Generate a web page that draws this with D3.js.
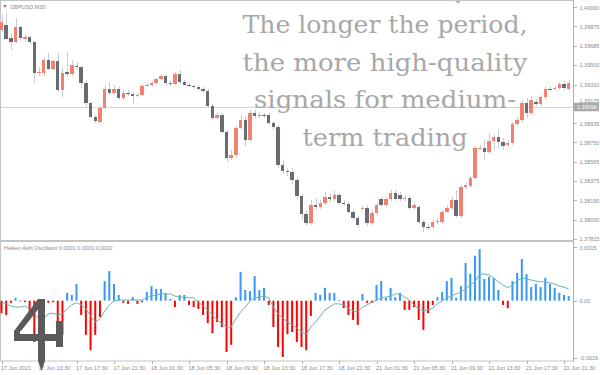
<!DOCTYPE html>
<html>
<head>
<meta charset="utf-8">
<script src="https://cdn.jsdelivr.net/npm/d3@7"></script>
<style>
  html, body { margin: 0; padding: 0; background: #fff; }
  svg { display: block; }
  .axis text { font-family: "Liberation Sans", Arial, sans-serif; font-size: 5.5px; fill: #8a8a8a; }
  .axis line, .axis path { stroke: #b0b0b0; shape-rendering: crispEdges; }
  .label { font-family: "Liberation Sans", Arial, sans-serif; font-size: 5.5px; fill: #8a8a8a; }
</style>
</head>
<body>
<div id="chart"></div>
<script>
// GBPUSD M30, 17 Jun 09:30 .. 21 Jun 22:00
const opens = [
  1.39840, 1.39889, 1.39763, 1.39724, 1.39869, 1.39753, 1.39772, 1.39724, 1.39424, 1.39424,
  1.39550, 1.39462, 1.39540, 1.39259, 1.39433, 1.39414, 1.39491, 1.39482, 1.39327, 1.39133,
  1.38997, 1.38949, 1.39084, 1.39269, 1.39230, 1.39269, 1.39181, 1.39230, 1.39220, 1.39201,
  1.39210, 1.39298, 1.39307, 1.39327, 1.39366, 1.39395, 1.39327, 1.39317, 1.39414, 1.39336,
  1.39307, 1.39298, 1.39288, 1.39269, 1.39249, 1.39104, 1.38988, 1.39017, 1.38852, 1.38600,
  1.38629, 1.38891, 1.38968, 1.38774, 1.39036, 1.39007, 1.39017, 1.39012, 1.38939, 1.38900,
  1.38532, 1.38474, 1.38464, 1.38387, 1.38232, 1.38057, 1.37970, 1.38145, 1.38125, 1.38164,
  1.38222, 1.38203, 1.38242, 1.38164, 1.38154, 1.38077, 1.38019, 1.38111, 1.38116, 1.37970,
  1.38067, 1.38203, 1.38145, 1.38203, 1.38261, 1.38242, 1.38203, 1.38212, 1.38116, 1.38125,
  1.37980, 1.37931, 1.37931, 1.37980, 1.37980, 1.38077, 1.38116, 1.38193, 1.38038, 1.38319,
  1.38329, 1.38406, 1.38687, 1.38697, 1.38658, 1.38765, 1.38804, 1.38755, 1.38726, 1.38745,
  1.38929, 1.38968, 1.39133, 1.39036, 1.39143, 1.39123, 1.39191, 1.39272, 1.39272, 1.39278,
  1.39317, 1.39269
];
const highs = [
  1.39995, 1.40005, 1.39811, 1.39957, 1.39879, 1.39792, 1.39782, 1.39734, 1.39482, 1.39569,
  1.39617, 1.39550, 1.39617, 1.39482, 1.39627, 1.39550, 1.39530, 1.39491, 1.39356, 1.39143,
  1.39017, 1.39104, 1.39307, 1.39336, 1.39307, 1.39288, 1.39259, 1.39259, 1.39240, 1.39230,
  1.39317, 1.39327, 1.39346, 1.39375, 1.39414, 1.39404, 1.39346, 1.39433, 1.39453, 1.39356,
  1.39327, 1.39317, 1.39307, 1.39288, 1.39269, 1.39123, 1.39046, 1.39036, 1.38871, 1.38678,
  1.38910, 1.39017, 1.39007, 1.39065, 1.39065, 1.39046, 1.39036, 1.39036, 1.38959, 1.38920,
  1.38581, 1.38503, 1.38503, 1.38406, 1.38251, 1.38096, 1.38193, 1.38212, 1.38193, 1.38271,
  1.38261, 1.38290, 1.38261, 1.38193, 1.38174, 1.38096, 1.38038, 1.38145, 1.38145, 1.38096,
  1.38164, 1.38222, 1.38222, 1.38290, 1.38290, 1.38271, 1.38242, 1.38232, 1.38174, 1.38145,
  1.37999, 1.37960, 1.37999, 1.38019, 1.38096, 1.38145, 1.38222, 1.38290, 1.38338, 1.38358,
  1.38426, 1.38716, 1.38726, 1.38774, 1.38842, 1.38823, 1.38871, 1.38794, 1.38774, 1.38949,
  1.38997, 1.39162, 1.39181, 1.39201, 1.39172, 1.39210, 1.39288, 1.39298, 1.39298, 1.39336,
  1.39346, 1.39356
];
const lows = [
  1.39821, 1.39743, 1.39646, 1.39714, 1.39743, 1.39734, 1.39705, 1.39327, 1.39395, 1.39395,
  1.39453, 1.39453, 1.39240, 1.39191, 1.39395, 1.39395, 1.39453, 1.39278, 1.39094, 1.38988,
  1.38939, 1.38939, 1.39075, 1.39210, 1.39210, 1.39162, 1.39162, 1.39201, 1.39123, 1.39191,
  1.39201, 1.39288, 1.39298, 1.39307, 1.39356, 1.39298, 1.39298, 1.39307, 1.39317, 1.39298,
  1.39288, 1.39269, 1.39249, 1.39230, 1.39084, 1.38968, 1.38978, 1.38833, 1.38561, 1.38581,
  1.38600, 1.38871, 1.38716, 1.38755, 1.38988, 1.38988, 1.38988, 1.38920, 1.38871, 1.38503,
  1.38445, 1.38426, 1.38348, 1.38193, 1.38000, 1.37941, 1.37951, 1.38096, 1.38106, 1.38145,
  1.38174, 1.38183, 1.38145, 1.38135, 1.38057, 1.37990, 1.37922, 1.38096, 1.37941, 1.37951,
  1.38048, 1.38125, 1.38125, 1.38183, 1.38183, 1.38183, 1.38183, 1.38096, 1.38096, 1.37960,
  1.37883, 1.37902, 1.37912, 1.37960, 1.37960, 1.38067, 1.38096, 1.38019, 1.38019, 1.38300,
  1.38309, 1.38387, 1.38678, 1.38581, 1.38639, 1.38678, 1.38697, 1.38678, 1.38707, 1.38726,
  1.38910, 1.38949, 1.38988, 1.39017, 1.39104, 1.39104, 1.39172, 1.39249, 1.39259, 1.39259,
  1.39259, 1.39259
];
const closes = [
  1.39918, 1.39753, 1.39724, 1.39869, 1.39763, 1.39772, 1.39724, 1.39424, 1.39433, 1.39550,
  1.39462, 1.39540, 1.39259, 1.39424, 1.39414, 1.39501, 1.39482, 1.39327, 1.39133, 1.38997,
  1.38958, 1.39084, 1.39269, 1.39230, 1.39269, 1.39181, 1.39230, 1.39220, 1.39201, 1.39210,
  1.39298, 1.39307, 1.39327, 1.39366, 1.39395, 1.39327, 1.39317, 1.39414, 1.39336, 1.39307,
  1.39298, 1.39288, 1.39269, 1.39249, 1.39104, 1.38988, 1.39017, 1.38852, 1.38600, 1.38629,
  1.38891, 1.38968, 1.38774, 1.39036, 1.39007, 1.39017, 1.39012, 1.38939, 1.38900, 1.38532,
  1.38474, 1.38464, 1.38387, 1.38232, 1.38057, 1.37970, 1.38145, 1.38125, 1.38164, 1.38222,
  1.38203, 1.38242, 1.38164, 1.38154, 1.38077, 1.38019, 1.37951, 1.38116, 1.37970, 1.38067,
  1.38145, 1.38145, 1.38203, 1.38261, 1.38203, 1.38203, 1.38212, 1.38116, 1.38145, 1.37980,
  1.37931, 1.37927, 1.37980, 1.37990, 1.38077, 1.38116, 1.38193, 1.38038, 1.38319, 1.38338,
  1.38406, 1.38697, 1.38697, 1.38658, 1.38765, 1.38804, 1.38755, 1.38716, 1.38745, 1.38929,
  1.38968, 1.39133, 1.39036, 1.39162, 1.39123, 1.39191, 1.39269, 1.39269, 1.39278, 1.39317,
  1.39278, 1.39327
];

// Heiken Ashi Oscillator, in points (0.00001)
const oscHist = [
  -35, -40, -6, 8, -2, -4, -32, -116, -124, -88,
  -6, -4, -74, -96, 22, 16, 47, -40, -96, -139,
  -96, -46, 55, 83, 47, 16, -6, -9, 10, -9,
  -4, 24, 41, 33, 33, 22, 5, -18, 16, 16,
  -12, -18, -23, -40, -63, -91, -60, -74, -144, -124,
  10, 81, 30, 27, 69, 30, 36, -12, -74, -130,
  -158, -94, -88, -116, -130, -139, -43, 22, 16, 36,
  22, 22, 2, -21, -40, -54, -68, 19, -6, -6,
  44, 55, 8, 36, 10, 22, -26, -26, -18, -54,
  -82, -35, -12, 10, 24, 55, 64, 8, 41, 106,
  75, 126, 145, 61, 67, 64, 30, -12, -21, 55,
  78, 117, 75, 38, 47, 38, 64, 47, 36, 22,
  16, 13
];
const oscSignal = [
  -4, -9, -15, -18, -18, -15, -23, -35, -51, -49,
  -37, -35, -40, -37, -23, -12, -6, -12, -23, -43,
  -60, -51, -29, -12, -1, 2, 2, 2, 2, 2,
  2, 8, 13, 16, 19, 19, 19, 13, 10, 10,
  8, 8, -4, -15, -26, -40, -54, -65, -74, -74,
  -51, -32, -18, -1, 8, 10, 13, 8, -18, -37,
  -49, -60, -68, -77, -88, -94, -74, -60, -43, -26,
  -18, -9, -9, -12, -21, -29, -32, -18, -12, -4,
  2, 8, 10, 13, 19, 19, 10, 2, -12, -23,
  -29, -26, -21, -9, -1, 8, 13, 19, 24, 33,
  44, 53, 75, 75, 72, 64, 53, 44, 36, 44,
  55, 64, 61, 58, 55, 53, 53, 50, 47, 41,
  38, 33
];

const priceTicks = [1.40060, 1.39875, 1.39685, 1.39500, 1.39310, 1.39125, 1.38935,
  1.38750, 1.38565, 1.38375, 1.38190, 1.38000, 1.37815];
const oscTicks = [150, 0, -160];
const oscTickLabels = ['0.0015', '0.00', '-0.0016'];
const timeTicks = [0, 8, 16, 24, 32, 40, 48, 56, 64, 72, 80, 88, 96, 104, 112, 120];
const timeLabels = ['17 Jun 2021', '17 Jun 13:30', '17 Jun 17:30', '17 Jun 21:30',
  '18 Jun 01:30', '18 Jun 05:30', '18 Jun 09:30', '18 Jun 13:30', '18 Jun 17:30',
  '18 Jun 21:30', '21 Jun 01:30', '21 Jun 05:30', '21 Jun 09:30', '21 Jun 13:30',
  '21 Jun 17:30', '21 Jun 21:30'];
const bidPrice = 1.39096;
const captionLines = ['The longer the period,', 'the more high-quality', 'signals for medium-', 'term trading'];

const width = 600;
const height = 375;
const plotRight = 573;
const mainTop = 1, mainBottom = 240;
const subTop = 242, subBottom = 361;

const svg = d3.select('#chart')
  .append('svg')
  .attr('width', width)
  .attr('height', height);

svg.append('rect').attr('width', width).attr('height', height).attr('fill', '#fff');

const x = d3.scaleLinear().domain([0, closes.length - 1]).range([1.5, 568.7]);
const y = d3.scaleLinear().domain([1.37805, 1.40111]).range([mainBottom, mainTop + 1]);
const yOsc = d3.scaleLinear().domain([-169.4, 162]).range([subBottom, subTop + 1]);

// window frames
svg.append('rect')
  .attr('x', 0.5).attr('y', 0.5)
  .attr('width', plotRight).attr('height', mainBottom)
  .attr('fill', 'none').attr('stroke', '#c4c4c4');
svg.append('rect')
  .attr('x', 0.5).attr('y', subTop - 0.5)
  .attr('width', plotRight).attr('height', subBottom - subTop + 0.5)
  .attr('fill', 'none').attr('stroke', '#c4c4c4');

// bid line
svg.append('line')
  .attr('x1', 1).attr('x2', plotRight)
  .attr('y1', Math.round(y(bidPrice)) + 0.5).attr('y2', Math.round(y(bidPrice)) + 0.5)
  .attr('stroke', '#d6d6d6')
  .attr('shape-rendering', 'crispEdges');

// candles
const bodyW = 3.4;
const idx = d3.range(closes.length);
const candles = svg.append('g').attr('shape-rendering', 'crispEdges');

candles.selectAll('.wick')
  .data(idx)
  .enter()
  .append('line')
  .attr('x1', (i) => Math.round(x(i)) + 0.5)
  .attr('x2', (i) => Math.round(x(i)) + 0.5)
  .attr('y1', (i) => y(highs[i]))
  .attr('y2', (i) => y(lows[i]))
  .attr('stroke', '#c9ccd6');

candles.selectAll('.body')
  .data(idx)
  .enter()
  .append('rect')
  .attr('x', (i) => x(i) - bodyW / 2)
  .attr('width', bodyW)
  .attr('y', (i) => y(Math.max(opens[i], closes[i])))
  .attr('height', (i) => Math.max(1, Math.abs(y(opens[i]) - y(closes[i]))))
  .attr('fill', (i) => closes[i] > opens[i] ? '#f2826f' : '#686c73');

// oscillator histogram and signal
svg.append('g')
  .selectAll('rect')
  .data(idx)
  .enter()
  .append('rect')
  .attr('x', (i) => x(i) - 1)
  .attr('width', 2)
  .attr('y', (i) => Math.min(yOsc(oscHist[i]), yOsc(0)))
  .attr('height', (i) => Math.abs(yOsc(oscHist[i]) - yOsc(0)))
  .attr('fill', (i) => oscHist[i] >= 0 ? '#3797f5' : '#ff0000');

svg.append('path')
  .datum(idx)
  .attr('d', d3.line().x((i) => x(i)).y((i) => yOsc(oscSignal[i])))
  .attr('fill', 'none')
  .attr('stroke', '#67b5b1')
  .attr('stroke-width', 1);

// price scale
const priceAxis = svg.append('g')
  .attr('class', 'axis')
  .attr('transform', `translate(${plotRight + 0.5},0)`)
  .call(d3.axisRight(y).tickValues(priceTicks).tickSize(3).tickSizeOuter(0).tickFormat(d3.format('.5f')));
priceAxis.select('.domain').remove();
// the bid badge covers most of its neighbour label, as in the terminal
priceAxis.selectAll('text').filter((d) => Math.abs(y(d) - y(bidPrice)) < 6).attr('dy', '-0.2em');

svg.append('line')
  .attr('x1', plotRight + 0.5).attr('x2', plotRight + 0.5)
  .attr('y1', 0).attr('y2', subBottom + 1)
  .attr('stroke', '#b0b0b0')
  .attr('shape-rendering', 'crispEdges');

// bid badge
const bidY = y(bidPrice);
svg.append('rect')
  .attr('x', plotRight + 1).attr('y', bidY - 4)
  .attr('width', 25).attr('height', 8.5)
  .attr('fill', '#a9a9a9');
svg.append('text')
  .attr('x', plotRight + 4).attr('y', bidY + 2)
  .attr('class', 'label')
  .style('fill', '#ffffff')
  .text(bidPrice.toFixed(5));

// oscillator scale
const oscAxis = svg.append('g')
  .attr('class', 'axis')
  .attr('transform', `translate(${plotRight + 0.5},0)`)
  .call(d3.axisRight(yOsc).tickValues(oscTicks).tickSize(3).tickFormat((d, i) => oscTickLabels[i]));
oscAxis.select('.domain').remove();

// time scale
const timeAxis = svg.append('g')
  .attr('class', 'axis')
  .attr('transform', `translate(0,${subBottom})`)
  .call(d3.axisBottom(x).tickValues(timeTicks).tickSize(3).tickSizeOuter(0).tickFormat((d, i) => timeLabels[i]));
timeAxis.select('.domain').remove();
timeAxis.selectAll('text').attr('text-anchor', 'start').attr('x', -1).attr('y', 5);

// window labels
svg.append('path')
  .attr('d', 'M3,5 L7,5 L5,8 Z')
  .attr('fill', '#8a8a8a');
svg.append('text').attr('class', 'label').attr('x', 10).attr('y', 8.5).text('GBPUSD,M30');
svg.append('path')
  .attr('d', 'M455,1 L461,1 L458,4 Z')
  .attr('fill', '#b8b8b8');
svg.append('text').attr('class', 'label').attr('x', 4).attr('y', 250).text('Heiken Ashi Oscillator 0.0001 0.0000 0.0002');

// caption overlay
const caption = svg.append('g')
  .attr('font-family', '"DejaVu Serif", serif')
  .attr('font-size', 25)
  .attr('fill', '#a8a8a8')
  .attr('text-anchor', 'middle');
const captionWidths = [285, 285, 262, 165];
captionLines.forEach((line, i) => {
  caption.append('text')
    .attr('x', 385)
    .attr('y', 33 + i * 37.7)
    .attr('textLength', captionWidths[i])
    .attr('lengthAdjust', 'spacingAndGlyphs')
    .text(line);
});

// logo mark (stylised "4H")
const logo = svg.append('g').attr('fill', '#5a5a5a');
logo.append('path').attr('d', 'M38,299 L45,299 L45,361 L41.5,371 L38,361 Z');
logo.append('path').attr('d', 'M38,299 L44,302 L21,331 L14,331 Z');
logo.append('path').attr('d', 'M14,331 L20,331 L20,334 L38,334 L38,341 L14,341 Z');
logo.append('path').attr('d', 'M45,334 L57,334 L57,341 L45,341 Z');
logo.append('path').attr('d', 'M56,321 L63,321 L63,347 L56,347 Z');
</script>
</body>
</html>
